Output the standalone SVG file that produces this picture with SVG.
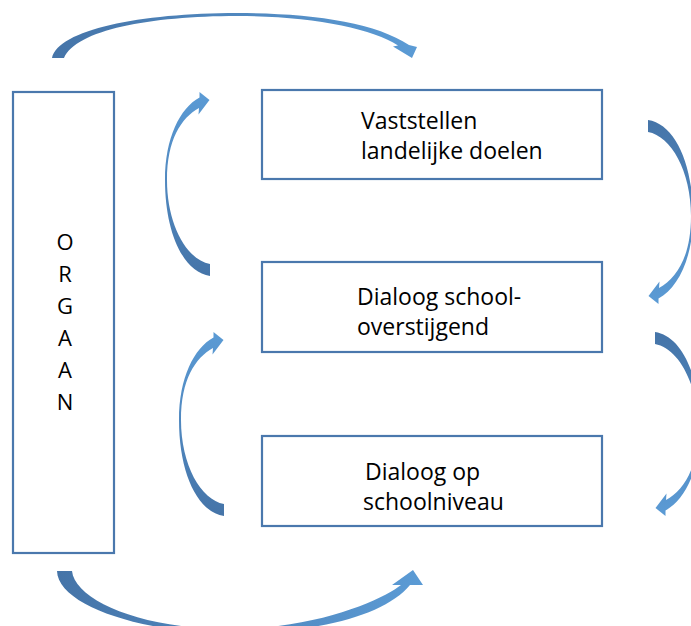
<svg xmlns="http://www.w3.org/2000/svg" width="691" height="626" viewBox="0 0 691 626">
<defs>
<style>
.box{fill:#fff;stroke:#4a78ad;stroke-width:2.2}
.lbl{font-family:"Open Sans","Noto Sans","Liberation Sans",sans-serif;font-size:23px;fill:#000}
.org{font-family:"Open Sans","Noto Sans","Liberation Sans",sans-serif;font-size:22px;fill:#000;text-anchor:middle}
</style>
<linearGradient id="gh" x1="0" y1="0" x2="1" y2="0">
<stop offset="0" stop-color="#4574a8"/><stop offset="1" stop-color="#5b9bd5"/>
</linearGradient>
<linearGradient id="gv" x1="0" y1="1" x2="0" y2="0">
<stop offset="0" stop-color="#4574a8"/><stop offset="1" stop-color="#5b9bd5"/>
</linearGradient>
<path id="sideArrow" d="M199.5,97.5 L199.5,92 L209.5,100 L198.5,114.5 L199,108 C181,118 167,140 167,180 C167,225 187,260 210,264 L210,276 C183,272 165,232 165,180 C165,138 180,108 199.5,97.5 Z"/>
</defs>
<g id="organ">
<rect class="box" x="13" y="92" width="101" height="461"/>
<text class="org" x="65" y="250">O</text>
<text class="org" x="65" y="282">R</text>
<text class="org" x="65" y="314">G</text>
<text class="org" x="65" y="346">A</text>
<text class="org" x="65" y="378">A</text>
<text class="org" x="65" y="410">N</text>
</g>
<g id="vaststellen">
<rect class="box" x="262" y="90" width="340" height="89"/>
<text class="lbl" x="361" y="129">Vaststellen</text>
<text class="lbl" x="361" y="159">landelijke doelen</text>
</g>
<g id="dialoog-schooloverstijgend">
<rect class="box" x="262" y="262" width="340" height="90"/>
<text class="lbl" x="357" y="305">Dialoog school-</text>
<text class="lbl" x="357" y="335">overstijgend</text>
</g>
<g id="dialoog-schoolniveau">
<rect class="box" x="262" y="436" width="340" height="90"/>
<text class="lbl" x="365" y="480">Dialoog op</text>
<text class="lbl" x="363" y="510">schoolniveau</text>
</g>
<g id="connectors">
<path fill="url(#gh)" d="M52,58 C58,30 140,13 237,13 C310,13 375,22 409,45 L417,47 L412,58 L393,46.5 L398,45.5 C372,28 310,16 237,16 C150,16 76,30 64,58 Z"/>
<path fill="url(#gh)" d="M57,571 C58,605 140,633 230,633 C320,633 385,615 410,585 L423,585 L413,570 L392,585 L401,585 C385,598 320,629 230,629 C140,629 75,600 72,571 Z"/>
<use href="#sideArrow" fill="url(#gv)"/>
<use href="#sideArrow" fill="url(#gv)" transform="translate(14,240)"/>
<use href="#sideArrow" fill="url(#gv)" transform="rotate(180 429 198)"/>
<use href="#sideArrow" fill="url(#gv)" transform="translate(7,212) rotate(180 429 198)"/>
</g>
</svg>
